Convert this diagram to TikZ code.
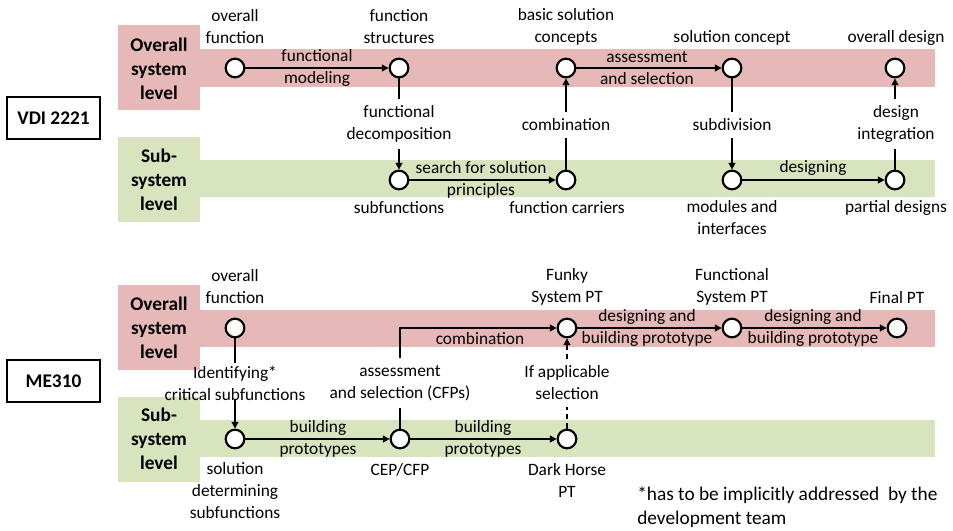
\documentclass[tikz,border=0pt]{standalone}
\usepackage{fontspec}
\setmainfont{Carlito}
\usetikzlibrary{arrows.meta}
\definecolor{bandred}{HTML}{E6B9B8}
\definecolor{bandgreen}{HTML}{D7E4BD}

\begin{document}
\begin{tikzpicture}[x=0.75pt,y=-0.75pt,
  stage/.style={circle,draw=black,fill=white,line width=1.6pt,minimum size=14pt,inner sep=0pt},
  flow/.style={line width=1.5pt,-{Triangle[length=5pt,width=5pt]}},
  link/.style={line width=1.5pt},
  txt/.style={font=\fontsize{13}{16.5}\selectfont,align=center,inner sep=0pt},
  vlab/.style={txt,inner ysep=5pt},
  lvl/.style={font=\bfseries\fontsize{14.5}{18}\selectfont,align=center,inner sep=0pt},
  method/.style={draw,line width=1.5pt,inner sep=0pt,font=\bfseries\fontsize{14.5}{18}\selectfont,
    minimum width=69.75pt,minimum height=31.5pt}]

\useasboundingbox (0,0) rectangle (953,531);
\fill[white] (0,0) rectangle (953,531);

% ---------------- VDI 2221 ----------------
\fill[bandred] (118,25) rectangle (200,110);
\fill[bandred] (200,49) rectangle (935,87);
\fill[bandgreen] (118,137) rectangle (200,222);
\fill[bandgreen] (200,160) rectangle (935,197);

\node[method] (vdi) at (53.5,118) {VDI 2221};
\node[lvl] (vdiov) at (159,69) {Overall\\system\\level};
\node[lvl] (vdisub) at (159,180) {Sub-\\system\\level};

\node[stage] (n1) at (235,68) {};
\node[stage] (n2) at (399,68) {};
\node[stage] (n3) at (566,68) {};
\node[stage] (n4) at (732,68) {};
\node[stage] (n5) at (895,68) {};
\node[stage] (s1) at (399,180) {};
\node[stage] (s2) at (566,180) {};
\node[stage] (s3) at (732,180) {};
\node[stage] (s4) at (895,180) {};

\node[txt] (t1) at (235,27) {overall\\function};
\node[txt] (t2) at (399,27) {function\\structures};
\node[txt] (t3) at (566,27) {basic solution\\concepts};
\node[txt] (t4) at (732,38) {solution concept};
\node[txt] (t5) at (896,38) {overall design};
\node[txt] (u1) at (399,208) {subfunctions};
\node[txt] (u2) at (567,208) {function carriers};
\node[txt] (u3) at (732,218) {modules and\\interfaces};
\node[txt] (u4) at (896,208) {partial designs};

\node[txt] (fm) at (317,68) {functional\\modeling};
\node[txt] (as) at (647,68) {assessment\\and selection};
\node[txt] (sp) at (481,180) {search for solution\\principles};
\node[txt] (dg) at (813,168) {designing};
\node[vlab] (fd) at (399,124) {functional\\decomposition};
\node[vlab] (cb) at (566,125) {combination};
\node[vlab] (sd) at (732,125) {subdivision};
\node[vlab] (di) at (896,124) {design\\integration};

\draw[flow] (n1) -- (n2);
\draw[flow] (n3) -- (n4);
\draw[flow] (s1) -- (s2);
\draw[flow] (s3) -- (s4);
\draw[link] (n2) -- (fd.north);
\draw[flow] (fd.south) -- (s1);
\draw[link] (s2) -- (cb.south);
\draw[flow] (cb.north) -- (n3);
\draw[link] (n4) -- (sd.north);
\draw[flow] (sd.south) -- (s3);
\draw[link] (s4) -- (di.south -| s4);
\draw[flow] (di.north -| n5) -- (n5);

% ---------------- ME310 ----------------
\fill[bandred] (118,285) rectangle (200,370);
\fill[bandred] (200,310) rectangle (935,347);
\fill[bandgreen] (118,397) rectangle (200,482);
\fill[bandgreen] (200,420) rectangle (935,457);

\node[method] (me) at (53.5,381) {ME310};
\node[lvl] (meov) at (159,328) {Overall\\system\\level};
\node[lvl] (mesub) at (159,439) {Sub-\\system\\level};

\node[stage] (m1) at (235,328) {};
\node[stage] (m2) at (567,328) {};
\node[stage] (m3) at (732,328) {};
\node[stage] (m4) at (897,328) {};
\node[stage] (b1) at (235,439) {};
\node[stage] (b2) at (400,439) {};
\node[stage] (b3) at (567,439) {};

\node[txt] (w1) at (235,287) {overall\\function};
\node[txt] (w2) at (567,287) {Funky\\System PT};
\node[txt] (w3) at (732,287) {Functional\\System PT};
\node[txt] (w4) at (897,298) {Final PT};
\node[txt] (v1) at (235,491) {solution\\determining\\subfunctions};
\node[txt] (v2) at (400,470) {CEP/CFP};
\node[txt] (v3) at (567,480) {Dark Horse\\PT};

\node[txt] (cm) at (480,339) {combination};
\node[txt] (db1) at (647,328) {designing and\\building prototype};
\node[txt] (db2) at (813,328) {designing and\\building prototype};
\node[txt] (bp1) at (318,439) {building\\prototypes};
\node[txt] (bp2) at (483,439) {building\\prototypes};
\node[vlab,inner ysep=2pt] (id) at (235,383) {Identifying*\\critical subfunctions};
\node[vlab] (ac) at (400,383) {assessment\\and selection (CFPs)};
\node[vlab] (ia) at (567,383) {If applicable\\selection};

\draw[flow] (b1) -- (b2);
\draw[flow] (b2) -- (b3);
\draw[flow] (m2) -- (m3);
\draw[flow] (m3) -- (m4);
\draw[link] (m1) -- (id.north);
\draw[flow] ([yshift=3pt]id.south) -- (b1);
\draw[link] (b2) -- (ac.south);
\draw[flow] (ac.north) |- (m2);
\draw[link,dash pattern=on 4pt off 3pt] (b3) -- (ia.south);
\draw[flow,dash pattern=on 4pt off 3pt] (ia.north) -- (m2);

\node[align=left,anchor=west,inner sep=0pt,font=\fontsize{14.5}{18}\selectfont] (note) at (637,507)
  {*has to be implicitly addressed\ \ by the\\development team};

\end{tikzpicture}
\end{document}
